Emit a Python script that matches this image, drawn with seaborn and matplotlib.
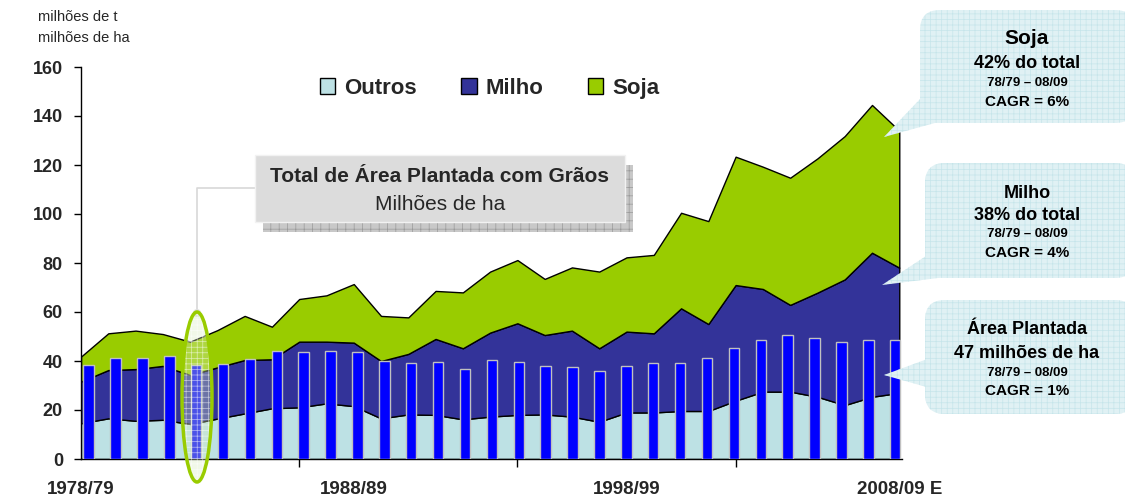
import numpy as np
import matplotlib
matplotlib.use('Agg')
import matplotlib.pyplot as plt
import seaborn as sns
from matplotlib.patches import Patch, Rectangle, FancyBboxPatch, Polygon, Ellipse, Circle

# safras 1978/79 ... 2008/09 E
safras = [f'{y}/{(y + 1) % 100:02d}' for y in range(1978, 2009)]
tick_labels = ['1978/79', '1988/89', '1998/99', '2008/09 E']

# milhoes de t (areas empilhadas)
outros = [14.6, 16.6, 15.6, 16.0, 14.3, 16.5, 18.6, 20.7, 21.1, 22.7, 21.6,
          16.6, 18.2, 18.0, 16.2, 17.3, 18.0, 18.2, 17.3, 15.2, 19.0, 19.0,
          19.6, 19.6, 23.8, 27.5, 27.5, 25.4, 22.0, 25.4, 27.0]
milho = [17.0, 19.7, 21.1, 22.0, 20.0, 20.9, 21.8, 20.0, 26.8, 25.2, 25.9,
         23.4, 24.7, 31.0, 29.0, 34.3, 37.4, 32.4, 35.1, 30.0, 33.0, 32.3,
         41.9, 35.5, 47.2, 41.9, 35.4, 42.5, 51.3, 58.8, 51.1]
soja = [10.2, 15.0, 15.7, 13.0, 13.6, 15.2, 18.0, 13.3, 17.4, 18.9, 23.9,
        18.4, 14.9, 19.6, 22.8, 24.9, 25.8, 22.9, 25.8, 31.3, 30.3, 32.0,
        39.0, 42.0, 52.4, 49.9, 51.9, 54.8, 58.5, 60.3, 55.9]
# milhoes de ha (barras)
area = [38.4, 41.4, 41.4, 42.2, 38.4, 38.9, 40.9, 43.9, 43.5, 43.9, 43.5,
        40.1, 39.0, 39.7, 36.6, 40.4, 39.6, 38.1, 37.6, 36.1, 38.1, 39.0,
        39.0, 41.4, 45.3, 48.7, 50.7, 49.2, 47.9, 48.7, 48.7]

c_outros, c_milho, c_soja, c_bar = '#BDE1E4', '#333399', '#99CC00', '#0000FF'

sns.set_theme(style='white')
plt.rcParams['font.family'] = ['Liberation Sans', 'DejaVu Sans']
plt.rcParams['hatch.linewidth'] = 0.5

fig = plt.figure(figsize=(11.25, 5), dpi=100)
ax = fig.add_axes([81 / 1125, 41 / 500, 821 / 1125, 392 / 500])

x = np.arange(len(safras))
ax.stackplot(x, outros, milho, soja, colors=[c_outros, c_milho, c_soja],
             edgecolor='black', linewidth=1, zorder=1)

bar_x = np.linspace(0.28, 29.85, len(safras))
sns.barplot(x=bar_x, y=area, native_scale=True, orient='x', width=0.39,
            color=c_bar, saturation=1, edgecolor='#C0C0C0', linewidth=1,
            errorbar=None, ax=ax, zorder=3)

ax.set_xlim(0, 30.1)
ax.set_ylim(0, 160)
ax.set_yticks(range(0, 161, 20))
ax.set_xticks([0, 10, 20, 30])
ax.set_xticklabels(tick_labels)
ax.set_xticks([0, 8, 16, 24], minor=True)
ax.set_xlabel('')
ax.set_ylabel('')
ax.grid(False)
ax.tick_params(axis='x', which='major', length=0, pad=16, labelsize=13.5)
ax.tick_params(axis='x', which='minor', bottom=True, length=6, width=1,
               color='black', direction='out')
ax.tick_params(axis='y', left=True, length=5, width=1, color='black',
               direction='out', pad=8, labelsize=13)
for lbl in ax.get_xticklabels() + ax.get_yticklabels():
    lbl.set_fontweight('bold')
for s in ['top', 'right']:
    ax.spines[s].set_visible(False)
for s in ['left', 'bottom']:
    ax.spines[s].set_color('black')
    ax.spines[s].set_linewidth(1)

handles = [Patch(facecolor=c, edgecolor='black', linewidth=1, label=l)
           for c, l in zip([c_outros, c_milho, c_soja], ['Outros', 'Milho', 'Soja'])]
ax.legend(handles=handles, loc='center', bbox_to_anchor=(0.4976, 0.946), ncol=3,
          frameon=False, prop={'weight': 'bold', 'size': 16}, handlelength=0.7,
          handleheight=0.7, handletextpad=0.4, columnspacing=2.0)

# camada de anotacoes em pixels
ov = fig.add_axes([0, 0, 1, 1], zorder=5)
ov.set_xlim(0, 1125)
ov.set_ylim(500, 0)
ov.axis('off')
ov.patch.set_alpha(0)

ov.text(38, 17, 'milhões de t', fontsize=10.5, va='center')
ov.text(38, 38, 'milhões de ha', fontsize=10.5, va='center')

# caixa do titulo
ov.plot([255, 197, 197], [188, 188, 310], color='#D8D8D8', lw=1.2, zorder=1)
ov.add_patch(Circle((197, 313), 4, facecolor='#E0E0E0', edgecolor='none', zorder=1))
ov.add_patch(Rectangle((263, 165), 370, 67, facecolor='#C8C8C8', edgecolor='#9A9A9A',
                       hatch='++', linewidth=0, zorder=2))
ov.add_patch(Rectangle((255, 155), 370, 67, facecolor='#DCDCDC', edgecolor='#F2F2F2',
                       linewidth=1, zorder=3))
ov.text(440, 176, 'Total de Área Plantada com Grãos', fontsize=15, fontweight='bold',
        ha='center', va='center', zorder=4)
ov.text(440, 204, 'Milhões de ha', fontsize=15, ha='center', va='center', zorder=4)

# elipse de destaque
ov.add_patch(Ellipse((197, 397), 30, 170, facecolor=(0.85, 0.92, 0.75, 0.35),
                     edgecolor=(1, 1, 1, 0.6), hatch='+++', linewidth=0, zorder=2))
ov.add_patch(Ellipse((197, 397), 30, 170, facecolor='none', edgecolor=c_soja,
                     linewidth=2.5, zorder=3))

# baloes da direita
b_face, b_hatch = '#E0F1F4', '#C6E5EA'


def balao(x0, y0, w, h, tail):
    ov.add_patch(Polygon(tail, closed=True, facecolor=b_face, edgecolor=b_hatch,
                         hatch='+++', linewidth=0, zorder=2))
    ov.add_patch(FancyBboxPatch((x0, y0), w, h, boxstyle='round,pad=0,rounding_size=20',
                                facecolor=b_face, edgecolor=b_hatch, hatch='+++',
                                linewidth=0, zorder=2))


balao(920, 10, 215, 113, [(921, 98), (942, 121), (884, 137)])
balao(925, 163, 210, 115, [(926, 256), (946, 277), (882, 285)])
balao(925, 300, 210, 114, [(930, 358), (930, 388), (884, 375)])

cx = 1027
for yy, txt, fs in [(38, 'Soja', 15), (63, '42% do total', 13), (83, '78/79 – 08/09', 9.5),
                    (102, 'CAGR = 6%', 11),
                    (193, 'Milho', 13), (215, '38% do total', 13), (234, '78/79 – 08/09', 9.5),
                    (253, 'CAGR = 4%', 11),
                    (330, 'Área Plantada', 13), (353, '47 milhões de ha', 13),
                    (373, '78/79 – 08/09', 9.5), (391, 'CAGR = 1%', 11)]:
    ov.text(cx, yy, txt, fontsize=fs, fontweight='bold', ha='center', va='center',
            color='black', zorder=4)

fig.savefig('out.png', dpi=100)
